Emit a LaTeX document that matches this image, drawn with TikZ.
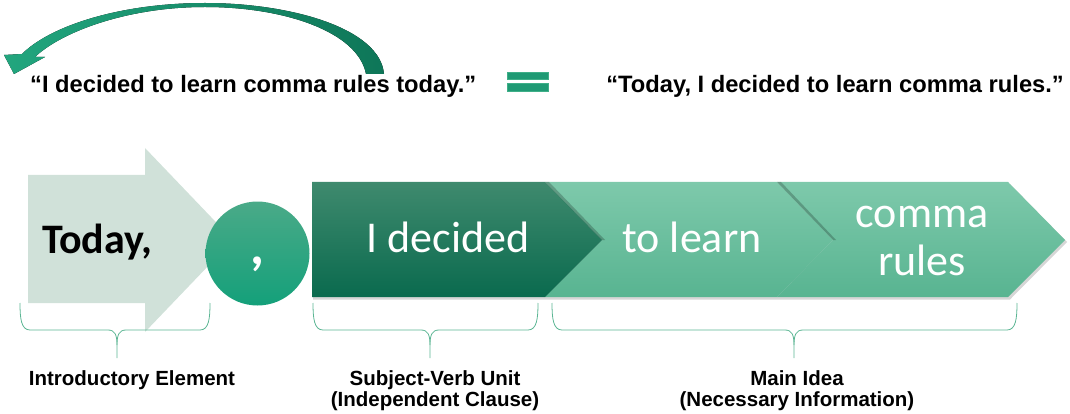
\documentclass[tikz,border=0pt]{standalone}
\usepackage{fontspec}
\setmainfont{Liberation Sans}
\newfontfamily\carlito{Carlito}
\definecolor{lightarrow}{HTML}{D0E1D9}
\definecolor{bracecol}{HTML}{5BB593}
\definecolor{eqcol}{HTML}{1F9A74}
\definecolor{eqedge}{HTML}{3FAF88}
\definecolor{arcleft}{HTML}{22A67E}
\definecolor{arcright}{HTML}{0E7658}
\definecolor{circtop}{HTML}{4AAA88}
\definecolor{circbot}{HTML}{14A07A}
\definecolor{darktop}{HTML}{3F8A6E}
\definecolor{darkbot}{HTML}{0A6A4E}
\definecolor{lighttop}{HTML}{7EC9AB}
\definecolor{lightbot}{HTML}{58B491}
\begin{document}
\begin{tikzpicture}[x=1pt,y=-1pt,
  quote/.style={inner sep=0pt,font=\fontsize{23.7}{28}\selectfont\bfseries},
  lab/.style={inner sep=0pt,anchor=base,font=\fontsize{20.5}{24}\selectfont\bfseries},
  big/.style={inner sep=0pt,anchor=base,text=white,font=\carlito\fontsize{44}{48}\selectfont},
  brace/.style={draw=bracecol,line width=0.8pt},
  tipshadow/.style={fill=black,opacity=0.22}]
\useasboundingbox (0,0) rectangle (1070,414);

% curved arrow
\fill[left color=arcleft,right color=arcright] (384,74) .. controls (380,28) and (290,3) .. (205,3)
  .. controls (120,3) and (50,26) .. (22,54) -- (4,55) -- (14,74) -- (45,57) -- (35,57)
  .. controls (60,33) and (125,7) .. (205,7) .. controls (285,7) and (358,32) .. (366,74) -- cycle;

% quotes and equals sign
\node[quote,anchor=base west] (q1) at (30,93) {“I decided to learn comma rules today.”};
\node[quote,anchor=base east] (q2) at (1064,93) {“Today, I decided to learn comma rules.”};
\fill[eqcol,draw=eqedge,line width=0.6pt] (507,72) rectangle (548,79);
\fill[eqcol,draw=eqedge,line width=0.6pt] (507,83) rectangle (548,91);

% light arrow
\fill[lightarrow] (28,175) -- (145,175) -- (145,148) -- (233,240) -- (145,332) -- (145,303) -- (28,303) -- cycle;
\node[inner sep=0pt,anchor=base west,font=\carlito\bfseries\fontsize{42}{46}\selectfont] (today) at (42,253) {Today,};

% circle
\shade[top color=circtop,bottom color=circbot] (257.5,253.5) circle[radius=52];
\node[inner sep=0pt,anchor=base,text=white,font=\carlito\bfseries\fontsize{54}{58}\selectfont] (comma) at (257,264) {,};

% bar shadow
\fill[black,opacity=0.16] (313,184) -- (1010,184) -- (1067,242) -- (1010,299.5) -- (313,299.5) -- cycle;
% chevrons
\shade[top color=lighttop,bottom color=lightbot] (777,182) -- (1008,182) -- (1065,240) -- (1008,297) -- (777,297) -- (833,240) -- cycle;
\shade[top color=lighttop,bottom color=lightbot] (545,182) -- (777,182) -- (833,240) -- (777,297) -- (545,297) -- (602,240) -- cycle;
\fill[tipshadow] (777,182) -- (833,240) -- (836,240) -- (781,182) -- cycle;
\shade[top color=darktop,bottom color=darkbot] (312,182) -- (545,182) -- (602,240) -- (545,297) -- (312,297) -- cycle;
\fill[tipshadow] (545,182) -- (602,240) -- (605,240) -- (549,182) -- cycle;
\node[big] (decided) at (448,252) {I decided};
\node[big] (learn) at (692,252) {to learn};
\node[big] (cm) at (922,227) {comma};
\node[big] (rules) at (922,275) {rules};

% braces
\draw[brace] (20,303) .. controls (20,318) and (21,330) .. (30,330) -- (108,330)
  .. controls (115,330) and (117,335) .. (117,345) -- (117,358);
\draw[brace] (117,345) .. controls (117,335) and (119,330) .. (126,330) -- (200,330)
  .. controls (209,330) and (210,318) .. (210,303);
\draw[brace] (313,303) .. controls (313,318) and (314,330) .. (323,330) -- (421,330)
  .. controls (428,330) and (430,335) .. (430,345) -- (430,358);
\draw[brace] (430,345) .. controls (430,335) and (432,330) .. (439,330) -- (528,330)
  .. controls (537,330) and (538,318) .. (538,303);
\draw[brace] (552,303) .. controls (552,318) and (553,330) .. (562,330) -- (785,330)
  .. controls (792,330) and (794,335) .. (794,345) -- (794,358);
\draw[brace] (794,345) .. controls (794,335) and (796,330) .. (803,330) -- (1007,330)
  .. controls (1016,330) and (1017,318) .. (1017,303);

% labels
\node[lab] (intro) at (132,385) {Introductory Element};
\node[lab] (sv1) at (435,385) {Subject-Verb Unit};
\node[lab] (sv2) at (435,406) {(Independent Clause)};
\node[lab] (mi1) at (797,385) {Main Idea};
\node[lab] (mi2) at (797,406) {(Necessary Information)};
\end{tikzpicture}
\end{document}
